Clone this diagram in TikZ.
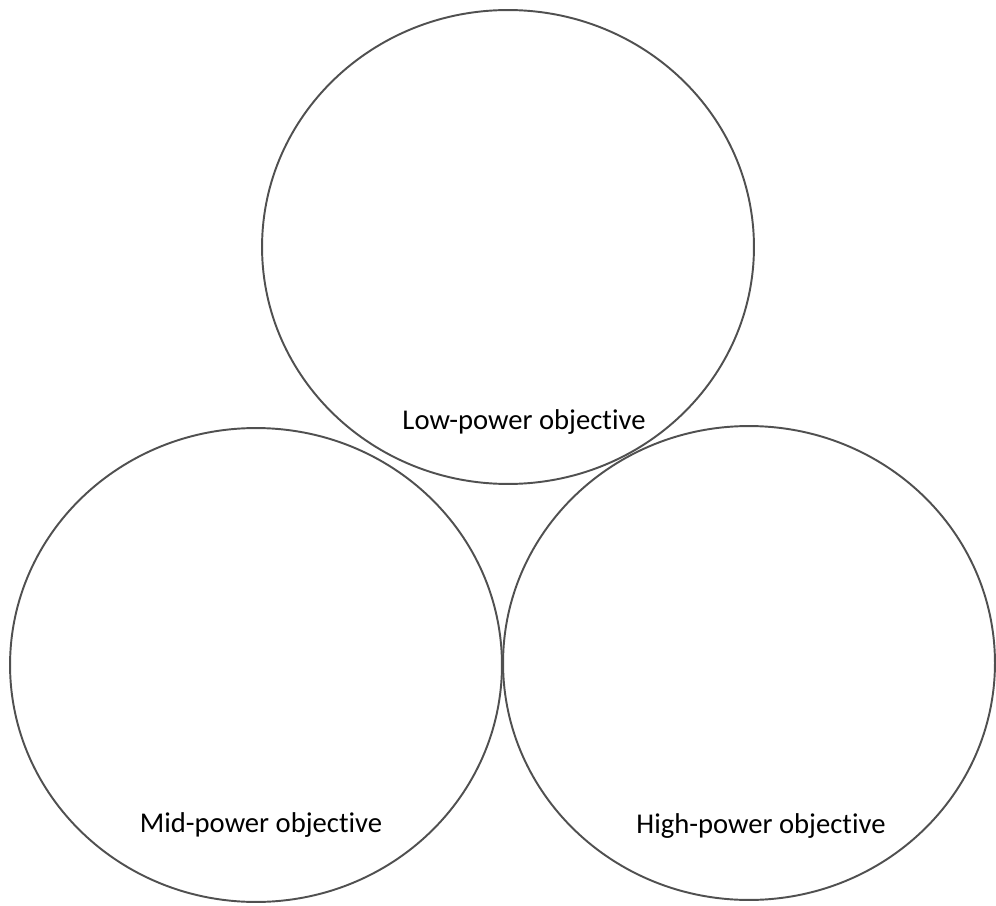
\documentclass[tikz,border=0pt]{standalone}
\usepackage{fontspec}
\setmainfont{Carlito}[Ligatures=NoCommon]
\usepackage{tikz}
\usetikzlibrary{shapes.geometric}
\definecolor{ringgray}{HTML}{505050}

\begin{document}
\begin{tikzpicture}[x=0.02cm,y=-0.02cm]
\tikzstyle{ring}=[draw=ringgray,line width=1.1pt,shape=ellipse,minimum width=9.84cm,minimum height=9.48cm,inner sep=0pt];
\tikzstyle{lbl}=[anchor=base,inner sep=0pt,font=\fontsize{16.3}{19}\selectfont];
\useasboundingbox (0,0) rectangle (996,905);
\node[ring] (low) at (508,247) {};
\node[ring] (mid) at (256,665) {};
\node[ring] (high) at (749,663) {};
\node[lbl] (lowtext) at (524,429) {Low-power objective};
\node[lbl] (midtext) at (261,832) {Mid-power objective};
\node[lbl] (hightext) at (761,833) {High-power objective};
\end{tikzpicture}
\end{document}
